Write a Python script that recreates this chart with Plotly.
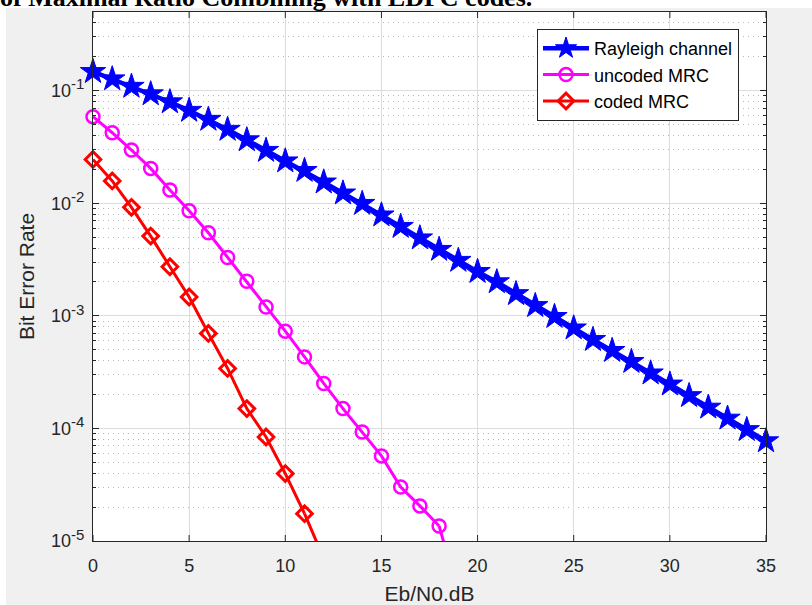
import math
import plotly.graph_objects as go

# ---------------- data ----------------
ebn0_rayleigh = list(range(0, 36))
ber_rayleigh = [0.1475, 0.127, 0.109, 0.0935, 0.0794, 0.0667, 0.0555, 0.0452, 0.0365, 0.0294,
                0.0237, 0.0195, 0.0154, 0.0123, 0.00994, 0.00785, 0.00621, 0.00491, 0.00388, 0.00310,
                0.00247, 0.00200, 0.00157, 0.00123, 0.000984, 0.000778, 0.000614, 0.000491, 0.000392,
                0.000310, 0.000247, 0.000195, 0.000154, 0.000123, 0.0000973, 0.0000774]

ebn0_uncoded = list(range(0, 20))
ber_uncoded = [0.0588, 0.0423, 0.0297, 0.0204, 0.0131, 0.00857, 0.00547, 0.00330, 0.00203, 0.00120,
               0.000731, 0.000432, 0.000251, 0.000150, 0.0000931, 0.0000570, 0.0000302, 0.0000205,
               0.0000136, 0.0000034]

ebn0_coded = list(range(0, 13))
ber_coded = [0.0245, 0.0158, 0.00920, 0.00511, 0.00273, 0.00147, 0.000698, 0.000341, 0.000150,
             0.0000839, 0.0000397, 0.0000175, 0.0000070]

series_names = ["Rayleigh channel", "uncoded MRC", "coded MRC"]
title_text = "of Maximal Ratio Combining with LDPC codes."
x_title = "Eb/N0.dB"
y_title = "Bit Error Rate"
x_ticks = [0, 5, 10, 15, 20, 25, 30, 35]
y_tick_exponents = [-5, -4, -3, -2, -1]

# ---------------- layout constants ----------------
W, H = 812, 605
L, R, T, B = 93, 46, 12, 64
PW, PH = W - L - R, H - T - B
Y_MIN = 1e-5
Y_MAX = 0.5
TICKLEN = 6

def px_to_paper_x(px):
    return (px - L) / PW

def px_to_paper_y(py):
    return 1 - (py - T) / PH

AX = "#262626"
FONT = "Liberation Sans, Arial, sans-serif"

styles = [
    dict(color="#0000ff", symbol="star", size=19, lw=4.5, mlw=1, mcolor="#0000ff"),
    dict(color="#ff00ff", symbol="circle-open", size=13, lw=3, mlw=2.5, mcolor="#ff00ff"),
    dict(color="#ff0000", symbol="diamond-open", size=12, lw=3, mlw=3, mcolor="#ff0000"),
]

fig = go.Figure()
for name, xs, ys, st in zip(series_names,
                            [ebn0_rayleigh, ebn0_uncoded, ebn0_coded],
                            [ber_rayleigh, ber_uncoded, ber_coded], styles):
    n_in = sum(1 for v in ys if v >= Y_MIN)
    fig.add_trace(go.Scatter(
        x=xs[:n_in], y=ys[:n_in], name=name, mode="lines+markers",
        line=dict(color=st["color"], width=st["lw"]),
        marker=dict(symbol=st["symbol"], size=st["size"], color=st["mcolor"],
                    line=dict(color=st["mcolor"], width=st["mlw"])),
        cliponaxis=False,
    ))
    if n_in < len(ys):
        fig.add_trace(go.Scatter(
            x=xs[n_in - 1:], y=ys[n_in - 1:], mode="lines", showlegend=False,
            line=dict(color=st["color"], width=st["lw"]), hoverinfo="skip",
            cliponaxis=True,
        ))

# inside tick marks of the x axis (bottom and top), placed at the tick values
tick_shapes = []
for v in x_ticks:
    tick_shapes.append(dict(type="line", xref="x", yref="paper", x0=v, x1=v,
                            y0=0, y1=TICKLEN / PH, line=dict(color=AX, width=1), layer="above"))
    tick_shapes.append(dict(type="line", xref="x", yref="paper", x0=v, x1=v,
                            y0=1 - TICKLEN / PH, y1=1, line=dict(color=AX, width=1), layer="above"))

fig.update_layout(
    width=W, height=H,
    margin=dict(l=L, r=R, t=T, b=B, pad=0, autoexpand=False),
    paper_bgcolor="#f0f0f0",
    plot_bgcolor="white",
    font=dict(family=FONT, size=18, color=AX),
    showlegend=True,
    legend=dict(
        x=px_to_paper_x(537), y=px_to_paper_y(29), xanchor="left", yanchor="top",
        bgcolor="white", bordercolor=AX, borderwidth=1,
        font=dict(family=FONT, size=18, color="black"),
        tracegroupgap=0, itemwidth=46,
    ),
    xaxis=dict(
        range=[0, 35], tickvals=x_ticks, ticktext=[str(v) for v in x_ticks],
        showline=True, linecolor=AX, linewidth=1, mirror=True, automargin=False,
        ticks="outside", ticklen=8, tickcolor="rgba(0,0,0,0)",
        showgrid=True, gridcolor="#dcdcdc", gridwidth=1, zeroline=False,
        tickfont=dict(family=FONT, size=18, color=AX),
        title=dict(text=x_title, font=dict(family=FONT, size=21, color=AX), standoff=14),
    ),
    yaxis=dict(
        type="log", range=[math.log10(Y_MIN), math.log10(Y_MAX)],
        tickvals=[10.0 ** e for e in y_tick_exponents],
        ticktext=["10<sup><span style='font-size:15px'>%d</span></sup>" % e
                  for e in y_tick_exponents],
        showline=True, linecolor=AX, linewidth=1, mirror="ticks", automargin=False,
        ticks="inside", ticklen=TICKLEN, tickcolor=AX, ticklabelstandoff=4,
        showgrid=True, gridcolor="#dcdcdc", gridwidth=1, zeroline=False,
        tickfont=dict(family=FONT, size=18, color=AX),
        minor=dict(dtick="D1", ticks="inside", ticklen=3, tickcolor=AX,
                   showgrid=True, gridcolor="#b8b8b8", griddash="1px,4px", gridwidth=1),
        title=dict(text=y_title, font=dict(family=FONT, size=21, color=AX), standoff=10),
    ),
    shapes=[
        dict(type="rect", xref="paper", yref="paper",
             x0=px_to_paper_x(0), x1=px_to_paper_x(W), y0=px_to_paper_y(8), y1=px_to_paper_y(0),
             fillcolor="white", line=dict(width=0), layer="below"),
        dict(type="rect", xref="paper", yref="paper",
             x0=px_to_paper_x(0), x1=px_to_paper_x(6), y0=px_to_paper_y(H), y1=px_to_paper_y(0),
             fillcolor="white", line=dict(width=0), layer="below"),
    ] + tick_shapes,
    annotations=[
        dict(text="<b>" + title_text + "</b>", xref="paper", yref="paper",
             x=px_to_paper_x(-2), y=px_to_paper_y(14), xanchor="left", yanchor="bottom",
             showarrow=False, font=dict(family="Liberation Serif, Times New Roman, serif",
                                        size=26, color="black")),
    ],
)

fig.write_html("out.html", config={"displayModeBar": False},
               post_script="document.body.style.margin='0';document.body.style.overflow='hidden';")
